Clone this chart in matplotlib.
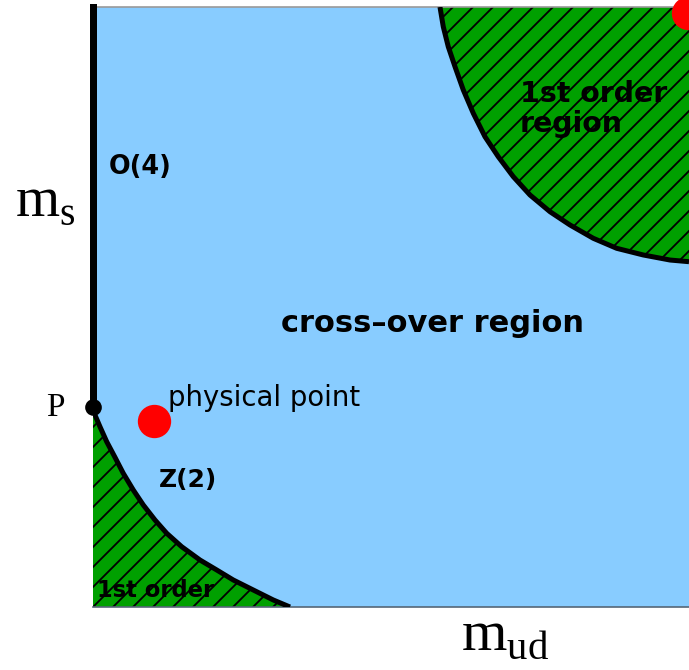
import numpy as np
import matplotlib
matplotlib.use("Agg")
import matplotlib.pyplot as plt

# Columbia-plot style phase diagram, axes run 0..1 in both directions
plt.rcParams['mathtext.fontset'] = 'custom'
plt.rcParams['mathtext.rm'] = 'Liberation Serif'
plt.rcParams['hatch.linewidth'] = 1.1

blue = '#88ccff'
green = '#00a000'

# lower-left first order boundary (from P down to the m_ud axis)
low_x = [0.0, 0.002, 0.0117, 0.023, 0.0369, 0.0508, 0.0676, 0.0844, 0.104,
         0.1237, 0.1488, 0.1795, 0.2076, 0.2354, 0.269, 0.3025, 0.3305]
low_y = [0.333, 0.323, 0.3005, 0.2755, 0.2495, 0.2228, 0.195, 0.17, 0.145,
         0.1228, 0.1005, 0.0783, 0.0617, 0.045, 0.0283, 0.0117, 0.0]

# upper-right first order boundary
up_x = [0.5822, 0.5877, 0.5961, 0.6074, 0.6213, 0.6381, 0.6577, 0.680,
        0.7052, 0.7332, 0.7668, 0.8003, 0.8394, 0.8787, 0.9233, 0.9681, 1.0]
up_y = [1.0, 0.9672, 0.9338, 0.9005, 0.8617, 0.8228, 0.7838, 0.7505,
        0.7172, 0.6867, 0.6588, 0.6367, 0.6145, 0.5978, 0.5867, 0.5783, 0.5755]

# points
P = (0.0, 0.333)
phys = (0.102, 0.31)
corner = (0.998, 0.99)

fig = plt.figure(figsize=(689 / 120, 670 / 120), dpi=120)
ax = fig.add_axes([93 / 689, 63 / 670, 596 / 689, 600 / 670])
ax.set_xlim(0, 1)
ax.set_ylim(0, 1)
ax.set_facecolor(blue)
ax.set_xticks([])
ax.set_yticks([])
ax.spines['left'].set_visible(False)
ax.spines['right'].set_visible(False)
ax.spines['top'].set_color('#999999')
ax.spines['top'].set_linewidth(1.0)
ax.spines['bottom'].set_color('#556677')
ax.spines['bottom'].set_linewidth(1.0)

# hatched green regions
ax.fill([0.0] + low_x, [0.0] + low_y, facecolor=green, edgecolor='black',
        hatch='//', linewidth=0, zorder=1)
ax.fill(up_x + [1.0], up_y + [1.0], facecolor=green, edgecolor='black',
        hatch='//', linewidth=0, zorder=1)

# boundary lines
ax.plot(low_x, low_y, color='black', lw=3, solid_capstyle='butt',
        solid_joinstyle='round', zorder=3)
ax.plot(up_x, up_y, color='black', lw=3, solid_capstyle='butt',
        solid_joinstyle='round', zorder=3)
ax.plot([0, 0], [P[1], 1.0], color='black', lw=4.2, clip_on=False, zorder=3)
ax.plot(P[0], P[1], 'o', color='black', markersize=9, clip_on=False, zorder=4)

# red points
ax.plot(phys[0], phys[1], 'o', color='#ff0000', markersize=19, zorder=4)
ax.plot(corner[0], corner[1], 'o', color='#ff0000', markersize=19,
        clip_on=False, zorder=4)

# labels
ax.text(0.079, 0.733, 'O(4)', fontsize=15.3, fontweight='bold',
        ha='center', va='center')
ax.text(0.569, 0.473, 'cross\u2013over region', fontsize=18.3,
        fontweight='bold', ha='center', va='center')
ax.text(0.126, 0.348, 'physical point', fontsize=16.5,
        ha='left', va='center')
ax.text(0.159, 0.212, 'Z(2)', fontsize=15, fontweight='bold',
        ha='center', va='center')
ax.text(0.007, 0.028, '1st order', fontsize=13.6, fontweight='bold',
        ha='left', va='center', zorder=5)
ax.text(0.716, 0.83, '1st order\nregion', fontsize=17, fontweight='bold',
        ha='left', va='center', linespacing=1.05, zorder=5)

ax.text(-0.064, 0.332, 'P', fontsize=20, family='Liberation Serif',
        ha='center', va='center')
ax.text(-0.08, 0.678, r'$\mathrm{m}_{\mathrm{s}}$', fontsize=34,
        ha='center', va='center')
ax.text(0.691, -0.043, r'$\mathrm{m}_{\mathrm{ud}}$', fontsize=35,
        ha='center', va='center')

fig.savefig('out.png', dpi=120)
